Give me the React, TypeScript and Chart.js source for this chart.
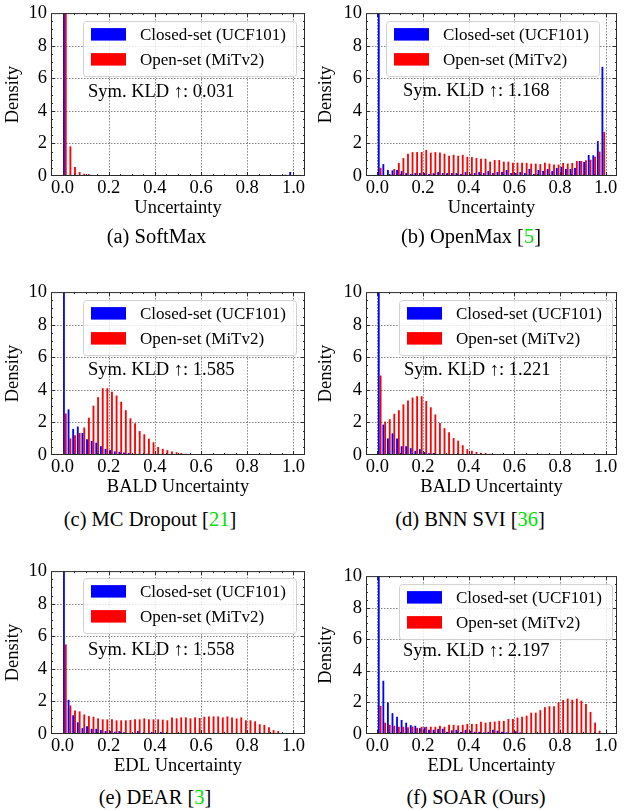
import React, { useEffect, useRef } from 'react';
import { Chart, registerables } from 'chart.js';

Chart.register(...registerables);

const FONT = '"Liberation Serif", "Times New Roman", serif';

const BIN_CENTERS = [
  0.01, 0.03, 0.05, 0.07, 0.09, 0.11, 0.13, 0.15, 0.17, 0.19,
  0.21, 0.23, 0.25, 0.27, 0.29, 0.31, 0.33, 0.35, 0.37, 0.39,
  0.41, 0.43, 0.45, 0.47, 0.49, 0.51, 0.53, 0.55, 0.57, 0.59,
  0.61, 0.63, 0.65, 0.67, 0.69, 0.71, 0.73, 0.75, 0.77, 0.79,
  0.81, 0.83, 0.85, 0.87, 0.89, 0.91, 0.93, 0.95, 0.97, 0.99,
];
const X_TICKS = [0, 0.2, 0.4, 0.6, 0.8, 1.0];
const Y_TICKS = [0, 2, 4, 6, 8, 10];

const SERIES_LABELS = ['Closed-set (UCF101)', 'Open-set (MiTv2)'];

// (a) SoftMax
const SOFTMAX_CLOSED = [
  25, 0.05, 0.05, 0, 0, 0, 0, 0, 0, 0,
  0, 0, 0, 0, 0, 0, 0, 0, 0, 0,
  0, 0, 0, 0, 0, 0, 0, 0, 0, 0,
  0, 0, 0, 0, 0, 0, 0, 0, 0, 0,
  0, 0, 0, 0, 0, 0, 0, 0, 0.08, 0.25,
];
const SOFTMAX_OPEN = [
  30, 1.82, 0.55, 0.24, 0.14, 0.12, 0.06, 0.06, 0.05, 0,
  0, 0, 0, 0, 0, 0, 0, 0, 0, 0,
  0, 0, 0, 0, 0, 0, 0, 0, 0, 0,
  0, 0, 0, 0, 0, 0, 0, 0, 0, 0,
  0, 0, 0, 0, 0, 0, 0, 0, 0, 0,
];
// (b) OpenMax
const OPENMAX_CLOSED = [
  20, 0.73, 0.37, 0.35, 0.37, 0.3, 0.18, 0.12, 0.18, 0.18,
  0.18, 0.12, 0.18, 0.24, 0.18, 0.18, 0.18, 0.18, 0.12, 0.24,
  0.14, 0.18, 0.24, 0.18, 0.3, 0.18, 0.24, 0.24, 0.37, 0.18,
  0.18, 0.24, 0.18, 0.43, 0.12, 0.37, 0.3, 0.43, 0.3, 0.49,
  0.57, 0.43, 0.43, 0.49, 0.92, 0.86, 1.29, 1.27, 2.14, 6.7,
];
const OPENMAX_OPEN = [
  0.5, 0.05, 0.12, 0.43, 0.8, 1.1, 1.37, 1.47, 1.47, 1.47,
  1.6, 1.43, 1.47, 1.45, 1.37, 1.24, 1.3, 1.24, 1.3, 1.18,
  1.16, 1.1, 1.06, 1.06, 0.88, 0.98, 0.98, 0.88, 0.88, 0.82,
  0.82, 0.82, 0.8, 0.76, 0.76, 0.73, 0.82, 0.76, 0.7, 0.7,
  0.8, 0.76, 0.8, 0.92, 0.92, 0.96, 1.0, 1.18, 1.5, 2.7,
];
// (c) MC Dropout
const MCD_CLOSED = [
  25, 2.8, 1.6, 1.75, 1.35, 0.96, 0.86, 0.76, 0.54, 0.38,
  0.3, 0.22, 0.2, 0.15, 0.12, 0.06, 0.02, 0.03, 0.08, 0,
  0, 0, 0, 0, 0, 0, 0, 0, 0, 0,
  0, 0, 0, 0, 0, 0, 0, 0, 0, 0,
  0, 0, 0, 0, 0, 0, 0, 0, 0, 0,
];
const MCD_OPEN = [
  2.55, 1.02, 1.22, 1.35, 1.69, 2.29, 3.03, 3.55, 4.1, 4.1,
  3.88, 3.65, 3.27, 2.75, 2.25, 1.95, 1.47, 1.27, 1.0, 0.78,
  0.49, 0.38, 0.3, 0.22, 0.17, 0.12, 0.08, 0.05, 0, 0,
  0, 0, 0, 0, 0, 0, 0, 0, 0, 0,
  0, 0, 0, 0, 0, 0, 0, 0, 0, 0,
];
// (d) BNN SVI
const BNN_CLOSED = [
  25, 1.87, 1.02, 1.33, 1.02, 0.54, 0.54, 0.42, 0.26, 0.36,
  0.18, 0.1, 0.12, 0.05, 0.02, 0, 0, 0, 0, 0,
  0, 0, 0, 0, 0, 0, 0, 0, 0, 0,
  0, 0, 0, 0, 0, 0, 0, 0, 0, 0,
  0, 0, 0, 0, 0, 0, 0, 0, 0, 0,
];
const BNN_OPEN = [
  4.88, 2.05, 2.2, 2.53, 2.75, 3.11, 3.35, 3.53, 3.61, 3.61,
  3.31, 2.93, 2.49, 1.97, 1.65, 1.39, 1.04, 0.88, 0.6, 0.36,
  0.26, 0.18, 0.14, 0.12, 0.08, 0.06, 0, 0, 0, 0,
  0, 0, 0, 0, 0, 0, 0, 0, 0, 0,
  0, 0, 0, 0, 0, 0, 0, 0, 0, 0,
];
// (e) DEAR
const DEAR_CLOSED = [
  25, 2.1, 1.15, 0.72, 0.36, 0.48, 0.32, 0.32, 0.24, 0.18,
  0.18, 0.14, 0.18, 0.1, 0.06, 0.06, 0.18, 0.06, 0.06, 0.12,
  0.06, 0.12, 0.04, 0.02, 0.05, 0.03, 0.05, 0.03, 0.05, 0.05,
  0.05, 0.03, 0, 0, 0, 0, 0, 0, 0, 0,
  0, 0, 0, 0, 0, 0, 0, 0, 0, 0,
];
const DEAR_OPEN = [
  5.5, 1.75, 1.45, 1.39, 1.2, 1.1, 1.06, 0.96, 0.9, 0.9,
  0.9, 0.84, 0.84, 0.84, 0.86, 0.9, 0.9, 0.96, 0.9, 0.9,
  0.9, 0.88, 0.84, 1.02, 0.96, 1.02, 1.02, 0.96, 1.02, 0.98,
  1.06, 1.08, 1.08, 1.08, 1.02, 1.08, 1.02, 0.96, 1.02, 0.84,
  0.84, 0.78, 0.6, 0.56, 0.42, 0.24, 0.18, 0.06, 0.02, 0,
];
// (f) SOAR
const SOAR_CLOSED = [
  25, 3.37, 2.0, 1.32, 1.1, 0.89, 0.72, 0.56, 0.52, 0.37,
  0.43, 0.27, 0.27, 0.31, 0.33, 0.14, 0.23, 0.27, 0.12, 0.27,
  0.21, 0.14, 0.14, 0.1, 0.14, 0.27, 0.21, 0.14, 0.1, 0.08,
  0.17, 0.1, 0.06, 0.06, 0.06, 0.06, 0.04, 0.03, 0.03, 0.08,
  0.08, 0, 0, 0, 0, 0, 0, 0, 0, 0,
];
const SOAR_OPEN = [
  1.78, 0.72, 0.58, 0.52, 0.46, 0.46, 0.43, 0.48, 0.39, 0.46,
  0.46, 0.46, 0.46, 0.52, 0.46, 0.58, 0.58, 0.54, 0.58, 0.64,
  0.64, 0.64, 0.77, 0.72, 0.77, 0.79, 0.83, 0.83, 0.95, 0.95,
  1.04, 1.1, 1.16, 1.35, 1.35, 1.51, 1.7, 1.76, 1.76, 2.0,
  2.15, 2.24, 2.17, 2.24, 2.11, 1.9, 1.4, 0.72, 0.21, 0,
];

type Spec = {
  closed: number[];
  open: number[];
  xTitle: string;
  kld: string;
  caption: string;
  cite?: string;
};

const SPECS: Spec[] = [
  { closed: SOFTMAX_CLOSED, open: SOFTMAX_OPEN, xTitle: 'Uncertainty', kld: 'Sym. KLD ↑: 0.031', caption: '(a) SoftMax' },
  { closed: OPENMAX_CLOSED, open: OPENMAX_OPEN, xTitle: 'Uncertainty', kld: 'Sym. KLD ↑: 1.168', caption: '(b) OpenMax ', cite: '5' },
  { closed: MCD_CLOSED, open: MCD_OPEN, xTitle: 'BALD Uncertainty', kld: 'Sym. KLD ↑: 1.585', caption: '(c) MC Dropout ', cite: '21' },
  { closed: BNN_CLOSED, open: BNN_OPEN, xTitle: 'BALD Uncertainty', kld: 'Sym. KLD ↑: 1.221', caption: '(d) BNN SVI ', cite: '36' },
  { closed: DEAR_CLOSED, open: DEAR_OPEN, xTitle: 'EDL Uncertainty', kld: 'Sym. KLD ↑: 1.558', caption: '(e) DEAR ', cite: '3' },
  { closed: SOAR_CLOSED, open: SOAR_OPEN, xTitle: 'EDL Uncertainty', kld: 'Sym. KLD ↑: 2.197', caption: '(f) SOAR (Ours)' },
];

// Layout (pixels): plot-area box, legend offset, annotation offset, caption centre
const LAYOUTS = [
  { left: 51, top: 10, w: 254, h: 166, legX: 32, legY: 8, kldX: 37, kldY: 79, yPad: 2.5, capX: 156.5, capY: 236 },
  { left: 366, top: 10, w: 251, h: 166, legX: 20, legY: 8, kldX: 37, kldY: 78, yPad: 0, capX: 471, capY: 236 },
  { left: 51, top: 289, w: 254, h: 166, legX: 32, legY: 8, kldX: 37, kldY: 78, yPad: 2.5, capX: 150, capY: 519 },
  { left: 366, top: 289, w: 251, h: 166, legX: 33, legY: 8, kldX: 38, kldY: 78, yPad: 0, capX: 470, capY: 519 },
  { left: 51, top: 568, w: 254, h: 166, legX: 32, legY: 7, kldX: 37, kldY: 79, yPad: 2.5, capX: 155, capY: 797 },
  { left: 366, top: 573, w: 251, h: 161, legX: 33, legY: 8, kldX: 37, kldY: 75, yPad: 0, capX: 476, capY: 797 },
];

const Y_AXIS_W = 51;
const X_AXIS_H = 50;
const PAD_TOP = 12;
const PAD_RIGHT = 7;

const decorPlugin = {
  id: 'histDecor',
  afterDatasetsDraw(chart: any) {
    const { ctx, chartArea: a, scales } = chart;
    const x = scales.x;
    const y = scales.y;
    ctx.save();
    ctx.strokeStyle = 'rgba(60,60,60,0.8)';
    ctx.lineWidth = 0.8;
    ctx.setLineDash([1.5, 1.5]);
    for (const v of X_TICKS) {
      const px = Math.round(x.getPixelForValue(v)) + 0.5;
      ctx.beginPath();
      ctx.moveTo(px, a.top);
      ctx.lineTo(px, a.bottom);
      ctx.stroke();
    }
    for (const v of Y_TICKS) {
      if (v === 0 || v === 10) continue;
      const py = Math.round(y.getPixelForValue(v)) + 0.5;
      ctx.beginPath();
      ctx.moveTo(a.left, py);
      ctx.lineTo(a.right, py);
      ctx.stroke();
    }
    ctx.restore();
  },
  afterDraw(chart: any, _args: any, opts: any) {
    const { ctx, chartArea: a, scales } = chart;
    const x = scales.x;
    const y = scales.y;
    ctx.save();
    ctx.strokeStyle = '#2a2a2a';
    ctx.lineWidth = 1;
    ctx.setLineDash([]);
    ctx.strokeRect(a.left + 0.5, a.top + 0.5, a.right - a.left - 1, a.bottom - a.top - 1);
    const tick = (x1: number, y1: number, x2: number, y2: number) => {
      ctx.beginPath();
      ctx.moveTo(x1, y1);
      ctx.lineTo(x2, y2);
      ctx.stroke();
    };
    for (let k = -1; k <= 21; k++) {
      const v = k * 0.05;
      if (v <= -0.049 || v >= 1.049) continue;
      const major = k % 4 === 0;
      const len = major ? 4 : 2;
      const px = Math.round(x.getPixelForValue(v)) + 0.5;
      tick(px, a.bottom, px, a.bottom - len);
      tick(px, a.top, px, a.top + len);
    }
    for (let k = 1; k < 20; k++) {
      const v = k * 0.5;
      const major = k % 4 === 0;
      const len = major ? 4 : 2;
      const py = Math.round(y.getPixelForValue(v)) + 0.5;
      tick(a.left, py, a.left + len, py);
      tick(a.right, py, a.right - len, py);
    }
    const lx = a.left + opts.legX;
    const ly = a.top + opts.legY;
    const lw = 213;
    const lh = 55;
    ctx.beginPath();
    ctx.roundRect(lx + 0.5, ly + 0.5, lw, lh, 3);
    ctx.fillStyle = 'rgba(255,255,255,0.8)';
    ctx.fill();
    ctx.strokeStyle = '#d0d0d0';
    ctx.stroke();
    ctx.fillStyle = '#0000ff';
    ctx.fillRect(lx + 8, ly + 7, 35, 12.5);
    ctx.fillStyle = '#ff0000';
    ctx.fillRect(lx + 8, ly + 32, 35, 12.5);
    ctx.fillStyle = '#000';
    ctx.font = `17px ${FONT}`;
    ctx.textBaseline = 'middle';
    ctx.textAlign = 'left';
    ctx.fillText(SERIES_LABELS[0], lx + 57, ly + 14);
    ctx.fillText(SERIES_LABELS[1], lx + 57, ly + 39);
    ctx.font = `18.5px ${FONT}`;
    ctx.fillText(opts.kld, a.left + opts.kldX, a.top + opts.kldY);
    ctx.restore();
  },
};

function HistPanel({ spec, lay }: { spec: Spec; lay: any }) {
  const ref = useRef<HTMLCanvasElement>(null);
  const cw = Y_AXIS_W + lay.w + PAD_RIGHT;
  const ch = PAD_TOP + lay.h + X_AXIS_H;
  useEffect(() => {
    const canvas = ref.current;
    if (!canvas) return;
    const tickFont = { family: FONT, size: 18.5 };
    const chart = new Chart(canvas, {
      type: 'bar',
      data: {
        datasets: [
          {
            label: SERIES_LABELS[0],
            data: BIN_CENTERS.map((b, i) => ({ x: b, y: spec.closed[i] })),
            backgroundColor: '#0000ff',
            borderWidth: 0,
            clip: 0,
            categoryPercentage: 0.8,
            barPercentage: 1.0,
          },
          {
            label: SERIES_LABELS[1],
            data: BIN_CENTERS.map((b, i) => ({ x: b, y: spec.open[i] })),
            backgroundColor: '#ff0000',
            borderWidth: 0,
            clip: 0,
            categoryPercentage: 0.8,
            barPercentage: 1.0,
          },
        ],
      } as any,
      options: {
        responsive: false,
        animation: false,
        devicePixelRatio: 1,
        layout: { padding: { top: PAD_TOP, right: PAD_RIGHT, left: 0, bottom: 0 } },
        plugins: {
          legend: { display: false },
          tooltip: { enabled: false },
          histDecor: { legX: lay.legX, legY: lay.legY, kldX: lay.kldX, kldY: lay.kldY, kld: spec.kld },
        } as any,
        scales: {
          x: {
            type: 'linear',
            min: -0.05,
            max: 1.05,
            offset: false,
            grid: { display: false, drawTicks: false, offset: false },
            border: { display: false },
            afterBuildTicks: (s: any) => {
              s.ticks = X_TICKS.map((v) => ({ value: v }));
            },
            afterFit: (s: any) => {
              s.height = X_AXIS_H;
            },
            ticks: {
              padding: 1.5,
              maxRotation: 0,
              autoSkip: false,
              color: '#000',
              font: tickFont,
              callback: (v: any) => Number(v).toFixed(1),
            },
            title: {
              display: true,
              text: spec.xTitle,
              color: '#000',
              font: tickFont,
              padding: { top: 0, bottom: 7 },
            },
          },
          y: {
            type: 'linear',
            min: 0,
            max: 10,
            grid: { display: false, drawTicks: false },
            border: { display: false },
            afterBuildTicks: (s: any) => {
              s.ticks = Y_TICKS.map((v) => ({ value: v }));
            },
            afterFit: (s: any) => {
              s.width = Y_AXIS_W;
            },
            ticks: {
              padding: 4,
              color: '#000',
              font: tickFont,
              callback: (v: any) => String(v),
            },
            title: {
              display: true,
              text: 'Density',
              color: '#000',
              font: tickFont,
              padding: { top: lay.yPad, bottom: 0 },
            },
          },
        },
      } as any,
      plugins: [decorPlugin as any],
    });
    return () => chart.destroy();
  }, []);
  return (
    <>
      <canvas
        ref={ref}
        width={cw}
        height={ch}
        style={{ position: 'absolute', left: lay.left - Y_AXIS_W, top: lay.top - PAD_TOP, width: cw, height: ch }}
      />
      <div
        style={{
          position: 'absolute',
          left: lay.capX,
          top: lay.capY,
          transform: 'translate(-50%, -50%)',
          font: `20.5px ${FONT}`,
          lineHeight: 1,
          whiteSpace: 'nowrap',
          color: '#000',
        }}
      >
        {spec.caption}
        {spec.cite ? (
          <>
            [<span style={{ color: '#00e000' }}>{spec.cite}</span>]
          </>
        ) : null}
      </div>
    </>
  );
}

export default function App() {
  return (
    <div style={{ position: 'absolute', left: 0, top: 0, width: 625, height: 811, background: '#fff', overflow: 'hidden' }}>
      {SPECS.map((s, i) => (
        <HistPanel key={i} spec={s} lay={LAYOUTS[i]} />
      ))}
    </div>
  );
}
